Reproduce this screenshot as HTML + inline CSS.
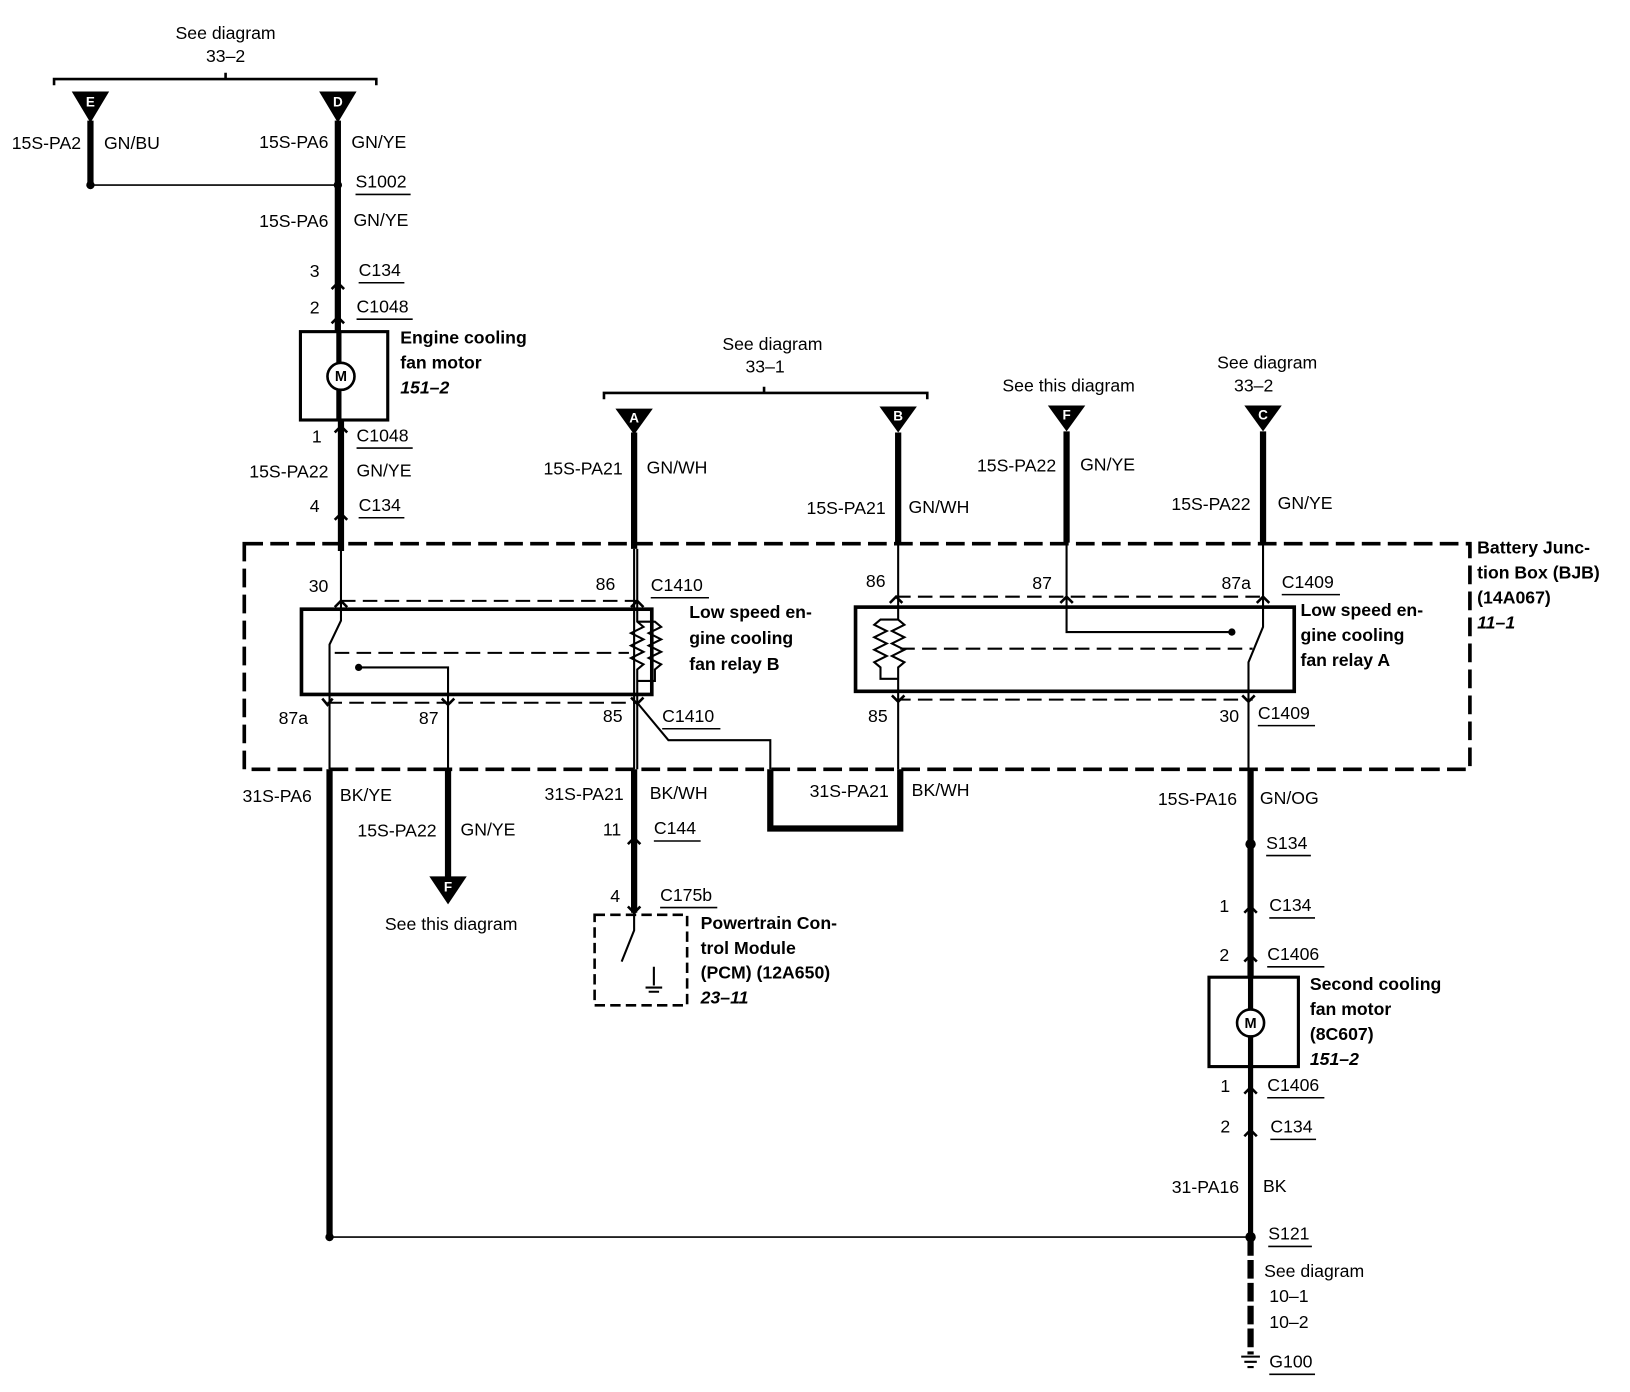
<!DOCTYPE html>
<html><head><meta charset="utf-8"><style>
html,body{margin:0;padding:0;background:#fff;}
svg{display:block;}
text{font-family:"Liberation Sans",Arial,sans-serif;font-size:17px;fill:#000;dominant-baseline:middle;}
.b{font-weight:bold;}
.r{text-anchor:end;}
.c{text-anchor:middle;}
.w{fill:#fff;font-size:13px;font-weight:bold;text-anchor:middle;}
</style></head><body>
<svg width="1630" height="1392" viewBox="0 0 1568 1339" xmlns="http://www.w3.org/2000/svg">
<g stroke="#000" fill="none">
<path d="M52 82V76H362V82M217 76V70" stroke-width="2.5"/>
<path d="M87 116V178" stroke-width="6"/>
<path d="M87 178H325" stroke-width="1.5"/>
<path d="M325 116V319" stroke-width="6"/>
<path d="M328 404V530" stroke-width="6"/>
<rect x="289" y="319" width="84" height="85" stroke-width="3"/>
<circle cx="328" cy="362" r="13" stroke-width="2.5"/>
<path d="M326 319V349M326 375V404" stroke-width="5"/>
<rect x="235" y="523" width="1179" height="217" stroke-width="3.5" stroke-dasharray="18,7"/>
<rect x="290" y="586" width="337" height="82" stroke-width="3.5"/>
<path d="M328 578H613M315 676H613" stroke-width="2" stroke-dasharray="14,7"/>
<path d="M328 530V597L317 620V740" stroke-width="2"/>
<path d="M322 628H605" stroke-width="2" stroke-dasharray="14,7"/>
<path d="M345 642H431V740" stroke-width="2"/>
<path d="M613 528V598l6 5-12 6 12 6-12 6 12 6-12 6 12 6-6 5V740M613 598H630l6 5-12 6 12 6-12 6 12 6-12 6 12 6-6 5V655H613" stroke-width="2"/>
<path d="M613 676L643 712H741V740" stroke-width="2"/>
<path d="M741 740V797H866V740" stroke-width="6"/>
<path d="M581 384V378H892V384M735 378V372" stroke-width="2.5"/>
<path d="M610 416V528" stroke-width="6"/>
<path d="M610 528V740" stroke-width="2"/>
<path d="M864 416V524" stroke-width="6"/>
<rect x="823" y="584" width="422" height="81" stroke-width="3.5"/>
<path d="M862 574H1215M862 673H1205" stroke-width="2" stroke-dasharray="14,7"/>
<path d="M866 624H1205" stroke-width="2" stroke-dasharray="14,7"/>
<path d="M864 524V596l6 5-12 6 12 6-12 6 12 6-12 6 12 6-6 5V740M864 596H847l-6 5 12 6-12 6 12 6-12 6 12 6-12 6 6 5V653H864" stroke-width="2"/>
<path d="M1026 415V522" stroke-width="6"/>
<path d="M1026 522V608H1185" stroke-width="2"/>
<path d="M1215 415V522" stroke-width="6"/>
<path d="M1215 522V603L1201 637V740" stroke-width="2"/>
<path d="M317 740V1190" stroke-width="6"/>
<path d="M431 740V845" stroke-width="6"/>
<path d="M610 740V878" stroke-width="6"/>
<rect x="572" y="880" width="89" height="87" stroke-width="2.5" stroke-dasharray="10,5"/>
<path d="M610 878V895L598 925M629 930V948M621 950H637M624 954H634" stroke-width="2"/>
<path d="M1203 740V940" stroke-width="6"/>
<rect x="1163" y="940" width="86" height="86" stroke-width="3"/>
<circle cx="1203" cy="984" r="13" stroke-width="2.5"/>
<path d="M1203 940V971M1203 997V1190" stroke-width="5"/>
<path d="M317 1190H1203" stroke-width="1.5"/>
<path d="M1203 1190V1303" stroke-width="6" stroke-dasharray="18,4"/>
<path d="M1194 1305H1212M1197 1310H1209M1200 1315H1206" stroke-width="2"/>
<!-- chevrons -->
<path d="M319 278L325 272L331 278M319 311L325 305L331 311M322 416L328 410L334 416M322 500L328 494L334 500M322 584L328 578L334 584M607 584L613 578L619 584M856 580L862 574L868 580M1209 580L1215 574L1221 580M1020 580L1026 574L1032 580M310 672L315 678L320 672M425 672L431 678L437 672M607 671L613 677L619 671M858 669L864 675L870 669M1195 669L1201 675L1207 669M604 812L610 806L616 812M604 872L610 878L616 872M1197 878L1203 872L1209 878M1197 925L1203 919L1209 925M1197 1052L1203 1046L1209 1052M1197 1093L1203 1087L1209 1093" stroke-width="2.5"/>
<path d="M342 187H395M345 272H389M343 307H397M343 431H397M345 498H389M626 575H682M637 701H693M1233 572H1289M1210 698H1265M629 809H674M635 873H690M1218 823H1261M1221 883H1265M1219 930H1274M1219 1056H1274M1222 1096H1266M1220 1199H1262M1221 1322H1265" stroke-width="1.5"/>
</g>
<g fill="#000">
<path d="M69 88H105L87 118Z"/><path d="M307 88H343L325 118Z"/>
<path d="M592 393H628L610 418Z"/><path d="M846 391H882L864 416Z"/>
<path d="M1008 390H1044L1026 415Z"/><path d="M1197 390H1233L1215 415Z"/>
<path d="M413 843H449L431 870Z"/>
<circle cx="87" cy="178" r="4"/><circle cx="325" cy="178" r="4"/>
<circle cx="1203" cy="812" r="5"/><circle cx="1203" cy="1190" r="5"/><circle cx="317" cy="1190" r="4"/>
<circle cx="1185" cy="608" r="3.5"/><circle cx="345" cy="642" r="3.5"/>
</g>
<text class="w" x="87" y="99">E</text><text class="w" x="325" y="99">D</text>
<text class="w" x="610" y="403">A</text><text class="w" x="864" y="401">B</text>
<text class="w" x="1026" y="400">F</text><text class="w" x="1215" y="400">C</text>
<text class="w" x="431" y="854">F</text>
<text x="328" y="363" class="c" style="font-size:14px;font-weight:bold">M</text>
<text x="1203" y="985" class="c" style="font-size:14px;font-weight:bold">M</text>

<text class="c" x="217" y="33">See diagram</text><text class="c" x="217" y="55">33–2</text>
<text class="r" x="78" y="139">15S-PA2</text><text x="100" y="139">GN/BU</text>
<text class="r" x="316" y="138">15S-PA6</text><text x="338" y="138">GN/YE</text>
<text x="342" y="176">S1002</text>
<text class="r" x="316" y="214">15S-PA6</text><text x="340" y="213">GN/YE</text>
<text x="298" y="262">3</text><text x="345" y="261">C134</text>
<text x="298" y="297">2</text><text x="343" y="296">C1048</text>
<text class="b" x="385" y="326">Engine cooling</text><text class="b" x="385" y="350">fan motor</text>
<text class="b" x="385" y="374" font-style="italic">151–2</text>
<text x="300" y="421">1</text><text x="343" y="420">C1048</text>
<text class="r" x="316" y="455">15S-PA22</text><text x="343" y="454">GN/YE</text>
<text x="298" y="488">4</text><text x="345" y="487">C134</text>
<text class="c" x="743" y="332">See diagram</text><text class="c" x="736" y="354">33–1</text>
<text class="r" x="599" y="452">15S-PA21</text><text x="622" y="451">GN/WH</text>
<text class="r" x="852" y="490">15S-PA21</text><text x="874" y="489">GN/WH</text>
<text class="c" x="1028" y="372">See this diagram</text>
<text class="r" x="1016" y="449">15S-PA22</text><text x="1039" y="448">GN/YE</text>
<text class="c" x="1219" y="350">See diagram</text><text class="c" x="1206" y="372">33–2</text>
<text class="r" x="1203" y="486">15S-PA22</text><text x="1229" y="485">GN/YE</text>
<text x="297" y="565">30</text><text x="573" y="563">86</text><text x="626" y="564">C1410</text>
<text class="b" x="663" y="590">Low speed en-</text><text class="b" x="663" y="615">gine cooling</text><text class="b" x="663" y="640">fan relay B</text>
<text x="268" y="692">87a</text><text x="403" y="692">87</text><text x="580" y="690">85</text><text x="637" y="690">C1410</text>
<text x="833" y="560">86</text><text x="993" y="562">87</text><text x="1175" y="562">87a</text><text x="1233" y="561">C1409</text>
<text class="b" x="1251" y="588">Low speed en-</text><text class="b" x="1251" y="612">gine cooling</text><text class="b" x="1251" y="636">fan relay A</text>
<text x="835" y="690">85</text><text x="1173" y="690">30</text><text x="1210" y="687">C1409</text>
<text class="b" x="1421" y="528">Battery Junc-</text><text class="b" x="1421" y="552">tion Box (BJB)</text><text class="b" x="1421" y="576">(14A067)</text>
<text class="b" x="1421" y="600" font-style="italic">11–1</text>
<text class="r" x="300" y="767">31S-PA6</text><text x="327" y="766">BK/YE</text>
<text class="r" x="420" y="800">15S-PA22</text><text x="443" y="799">GN/YE</text>
<text class="c" x="434" y="890">See this diagram</text>
<text class="r" x="600" y="765">31S-PA21</text><text x="625" y="764">BK/WH</text>
<text x="580" y="799">11</text><text x="629" y="798">C144</text>
<text x="587" y="863">4</text><text x="635" y="862">C175b</text>
<text class="b" x="674" y="889">Powertrain Con-</text><text class="b" x="674" y="913">trol Module</text><text class="b" x="674" y="937">(PCM) (12A650)</text>
<text class="b" x="674" y="961" font-style="italic">23–11</text>
<text class="r" x="855" y="762">31S-PA21</text><text x="877" y="761">BK/WH</text>
<text class="r" x="1190" y="770">15S-PA16</text><text x="1212" y="769">GN/OG</text>
<text x="1218" y="812">S134</text>
<text x="1173" y="873">1</text><text x="1221" y="872">C134</text>
<text x="1173" y="920">2</text><text x="1219" y="919">C1406</text>
<text class="b" x="1260" y="948">Second cooling</text><text class="b" x="1260" y="972">fan motor</text><text class="b" x="1260" y="996">(8C607)</text>
<text class="b" x="1260" y="1020" font-style="italic">151–2</text>
<text x="1174" y="1046">1</text><text x="1219" y="1045">C1406</text>
<text x="1174" y="1085">2</text><text x="1222" y="1085">C134</text>
<text class="r" x="1192" y="1143">31-PA16</text><text x="1215" y="1142">BK</text>
<text x="1220" y="1188">S121</text>
<text x="1216" y="1224">See diagram</text><text x="1221" y="1248">10–1</text><text x="1221" y="1273">10–2</text>
<text x="1221" y="1311">G100</text>
</svg>
</body></html>
